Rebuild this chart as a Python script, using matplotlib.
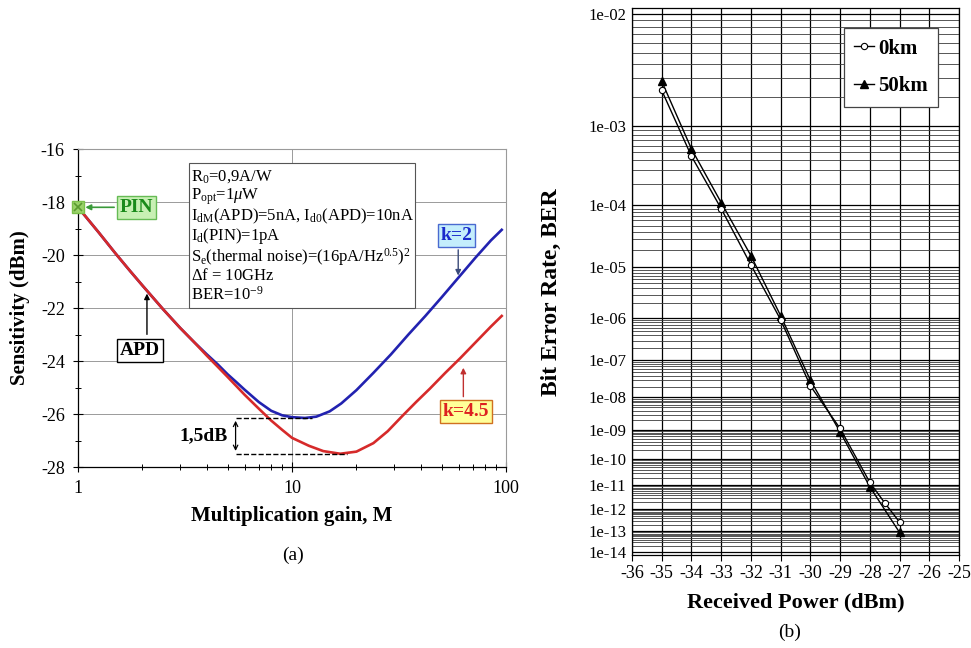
import numpy as np
import matplotlib
matplotlib.use('Agg')
import matplotlib.pyplot as plt
from matplotlib.ticker import FixedLocator, NullFormatter, FuncFormatter
from matplotlib.patches import Rectangle

plt.rcParams['font.family'] = ['Liberation Serif', 'DejaVu Serif']
plt.rcParams['mathtext.fontset'] = 'custom'
plt.rcParams['mathtext.rm'] = 'Liberation Serif'
plt.rcParams['mathtext.it'] = 'Liberation Serif:italic'
plt.rcParams['mathtext.bf'] = 'Liberation Serif:bold'

# ---------------- data: panel (a) ----------------
gain_k2 = [1, 1.25, 1.5, 1.75, 2, 2.5, 3, 3.5, 4, 4.5, 5, 5.5, 6, 7, 8, 9, 10,
           11.5, 13, 15, 17, 20, 24, 29, 35, 42, 50, 60, 72, 85, 95.5]
sens_k2 = [-18.2, -19.15, -19.95, -20.6, -21.15, -22.05, -22.75, -23.3, -23.75,
           -24.13, -24.5, -24.8, -25.08, -25.55, -25.88, -26.05, -26.12,
           -26.15, -26.1, -25.9, -25.6, -25.1, -24.45, -23.75, -23.0, -22.3,
           -21.6, -20.85, -20.1, -19.45, -19.05]
gain_k45 = [1, 1.25, 1.5, 1.75, 2, 2.5, 3, 3.5, 4, 4.5, 5, 5.5, 6, 7, 8, 9, 10,
            12, 14, 16.8, 20, 24, 28, 33, 38, 44, 52, 61, 72, 85, 95.5]
sens_k45 = [-18.2, -19.15, -19.95, -20.6, -21.15, -22.05, -22.75, -23.3, -23.8,
            -24.22, -24.6, -24.95, -25.27, -25.8, -26.25, -26.6, -26.9,
            -27.2, -27.4, -27.5, -27.42, -27.1, -26.65, -26.05, -25.55, -25.05,
            -24.45, -23.9, -23.3, -22.7, -22.3]
pin_gain = [1]
pin_sens = [-18.2]
a_xticks = [1, 10, 100]
a_yticks = [-16, -18, -20, -22, -24, -26, -28]
param_lines = [r'R$_{0}$=0,9A/W',
               r'P$_{\mathrm{opt}}$=1$\mu$W',
               r'I$_{\mathrm{dM}}$(APD)=5nA, I$_{\mathrm{d0}}$(APD)=10nA',
               r'I$_{\mathrm{d}}$(PIN)=1pA',
               r'S$_{\mathrm{e}}$(thermal noise)=(16pA/Hz$^{0.5}$)$^{2}$',
               r'$\Delta$f = 10GHz',
               r'BER=10$^{-9}$']

# ---------------- data: panel (b) ----------------
power_0km = [-35, -34, -33, -32, -31, -30, -29, -28, -27.5, -27]
ber_0km = [2.3e-3, 4.5e-4, 9e-5, 1.1e-5, 9e-7, 2.1e-8, 1.1e-9, 1.3e-11, 1.9e-12, 2.7e-13]
power_50km = [-35, -34, -33, -32, -31, -30, -29, -28, -27]
ber_50km = [2.8e-3, 5.5e-4, 1.1e-4, 1.6e-5, 1.1e-6, 3e-8, 8.5e-10, 8.7e-12, 9e-14]
b_xticks = list(range(-36, -24))
b_exponents = list(range(2, 15))

W, H = 971, 648
fig = plt.figure(figsize=(W / 100, H / 100), dpi=100)


def fr(x0, y0, x1, y1):
    return [x0 / W, 1 - y1 / H, (x1 - x0) / W, (y1 - y0) / H]


def fp(x, y):
    return (x / W, 1 - y / H)


RED = '#d62a2a'
BLUE = '#2222b0'

# ================= panel (a) =================
axL = fig.add_axes(fr(78, 149, 506, 467))
axL.set_xscale('log')
axL.set_xlim(1, 100)
axL.set_ylim(-28, -16)
axL.set_xticks(a_xticks)
axL.set_xticklabels([str(v) for v in a_xticks])
axL.xaxis.set_minor_locator(FixedLocator([m * 10 ** e for e in range(2) for m in range(2, 10)]))
axL.xaxis.set_minor_formatter(NullFormatter())
axL.set_yticks(a_yticks)
axL.set_yticklabels([f'{v}' for v in a_yticks])
axL.yaxis.set_minor_locator(FixedLocator(np.arange(-27, -16, 2)))
axL.tick_params(which='major', direction='inout', length=7, width=0.8, labelsize=13, pad=6)
axL.tick_params(which='minor', direction='inout', length=5, width=0.7)
axL.grid(True, which='major', color='#9a9a9a', lw=0.7)
for s in ['top', 'right']:
    axL.spines[s].set_color('#9a9a9a')
for s in ['left', 'bottom']:
    axL.spines[s].set_linewidth(0.9)

axL.plot(gain_k2, sens_k2, color=BLUE, lw=1.9, zorder=3)
axL.plot(gain_k45, sens_k45, color=RED, lw=1.9, zorder=4)
axL.plot(pin_gain, pin_sens, marker='s', ms=8, mfc='#9ad26a', mec='#7bbf4a', ls='none',
         zorder=6, clip_on=False)
axL.plot(pin_gain, pin_sens, marker='x', ms=6, mec='#5a9a30', mew=1.2, ls='none',
         zorder=7, clip_on=False)

axL.set_xlabel('Multiplication gain, M', fontsize=15, fontweight='bold', labelpad=6)
axL.set_ylabel('Sensitivity (dBm)', fontsize=15, fontweight='bold', labelpad=8)

# parameter box
fig.patches.append(Rectangle(fp(189, 308), (415 - 189) / W, (308 - 163) / H,
                             transform=fig.transFigure, fc='white', ec='#555555',
                             lw=0.8, zorder=5))
line_y = [177, 197, 216, 236, 257, 276, 295]
for t, yy in zip(param_lines, line_y):
    fig.text(*fp(191, yy), t, fontsize=12, va='center', ha='left', zorder=6)

# PIN label
axL.annotate('', xy=(1.05, pin_sens[0]), xytext=(1.52, pin_sens[0]),
             arrowprops=dict(arrowstyle='-|>', color='#3a9a3a', lw=1.2, mutation_scale=8),
             zorder=6)
axL.text(1.87, pin_sens[0], 'PIN', fontsize=14, fontweight='bold', color='#1a8a1a',
         ha='center', va='center', zorder=7,
         bbox=dict(boxstyle='square,pad=0.15', fc='#c8f0b4', ec='#66bb55', lw=1))

# APD label
axL.annotate('', xy=(2.1, -21.35), xytext=(2.1, -23.1),
             arrowprops=dict(arrowstyle='-|>', color='black', lw=1.0, mutation_scale=8))
axL.text(1.95, -23.6, 'APD', fontsize=14, fontweight='bold', color='black',
         ha='center', va='center',
         bbox=dict(boxstyle='square,pad=0.15', fc='white', ec='black', lw=1))

# k=2 label
axL.annotate('', xy=(59.8, -20.88), xytext=(59.8, -19.7),
             arrowprops=dict(arrowstyle='-|>', color='#3a4a7a', lw=1.0, mutation_scale=8))
axL.text(58.7, -19.26, 'k=2', fontsize=14, fontweight='bold', color='#1a2acc',
         ha='center', va='center',
         bbox=dict(boxstyle='square,pad=0.15', fc='#c4eefc', ec='#4a6ad0', lw=1))

# k=4.5 label
axL.annotate('', xy=(63.2, -24.15), xytext=(63.2, -25.45),
             arrowprops=dict(arrowstyle='-|>', color='#c03030', lw=1.0, mutation_scale=8))
axL.text(65, -25.9, 'k=4.5', fontsize=14, fontweight='bold', color='#dd2020',
         ha='center', va='center',
         bbox=dict(boxstyle='square,pad=0.15', fc='#ffff99', ec='#d07020', lw=1))

# 1,5 dB annotation
top_min = min(sens_k2)
bot_min = min(sens_k45)
axL.plot([5.45, 12.4], [top_min, top_min], ls='--', color='black', lw=1.0, zorder=5)
axL.plot([5.45, 18.0], [bot_min, bot_min], ls='--', color='black', lw=1.0, zorder=5)
axL.annotate('', xy=(5.45, bot_min), xytext=(5.45, top_min),
             arrowprops=dict(arrowstyle='<->', color='black', lw=0.9, mutation_scale=8))
axL.text(5.0, (top_min + bot_min) / 2, '1,5dB', fontsize=14, fontweight='bold',
         ha='right', va='center')

fig.text(*fp(293, 555), '(a)', fontsize=14, ha='center', va='center')

# ================= panel (b) =================
axR = fig.add_axes(fr(632, 8, 959, 555))


def fwd(y):
    y = np.asarray(y, dtype=float)
    with np.errstate(all='ignore'):
        yc = np.clip(y, 1e-300, 0.999999)
        return -np.log10(-np.log10(yc))


def inv(z):
    z = np.asarray(z, dtype=float)
    with np.errstate(all='ignore'):
        return 10.0 ** (-(10.0 ** (-z)))


axR.set_yscale('function', functions=(fwd, inv))
axR.set_xlim(b_xticks[0], b_xticks[-1])
axR.set_ylim(7e-15, 1.1e-2)
majors = [10.0 ** (-e) for e in b_exponents]
minors = [m * 10.0 ** (-e) for e in b_exponents[1:] for m in range(2, 10)]
axR.yaxis.set_major_locator(FixedLocator(majors))
axR.yaxis.set_minor_locator(FixedLocator(minors))
axR.yaxis.set_major_formatter(FuncFormatter(lambda v, p: '1e-%02d' % round(-np.log10(v))))
axR.yaxis.set_minor_formatter(NullFormatter())
axR.set_xticks(b_xticks)
axR.set_xticklabels([str(v) for v in b_xticks])
axR.tick_params(axis='y', which='both', length=0, labelsize=12, pad=4)
axR.tick_params(axis='x', which='major', length=4, labelsize=13, pad=3)
axR.grid(True, which='major', color='black', lw=0.9)
axR.grid(True, which='minor', axis='y', color='#3a3a3a', lw=0.6)
for s in axR.spines.values():
    s.set_linewidth(0.9)

axR.plot(power_0km, ber_0km, color='black', lw=1.0, marker='o', ms=4.5,
         mfc='white', mec='black', mew=0.8, label='0km', zorder=5)
axR.plot(power_50km, ber_50km, color='black', lw=1.0, marker='^', ms=5.5,
         mfc='black', mec='black', label='50km', zorder=4)

leg = axR.legend(loc='upper right', bbox_to_anchor=(0.936, 0.963), borderaxespad=0,
                 prop={'weight': 'bold', 'size': 15}, handlelength=0.95,
                 handletextpad=0.2, labelspacing=0.85, borderpad=0.5,
                 fancybox=False, framealpha=1, edgecolor='#444444')
leg.get_frame().set_linewidth(0.9)

axR.set_xlabel('Received Power (dBm)', fontsize=16, fontweight='bold', labelpad=8)
axR.set_ylabel('Bit Error Rate, BER', fontsize=17, fontweight='bold')
axR.yaxis.set_label_coords(-0.214, 0.48)

fig.text(*fp(790, 632), '(b)', fontsize=14, ha='center', va='center')

fig.savefig('out.png', dpi=100)
